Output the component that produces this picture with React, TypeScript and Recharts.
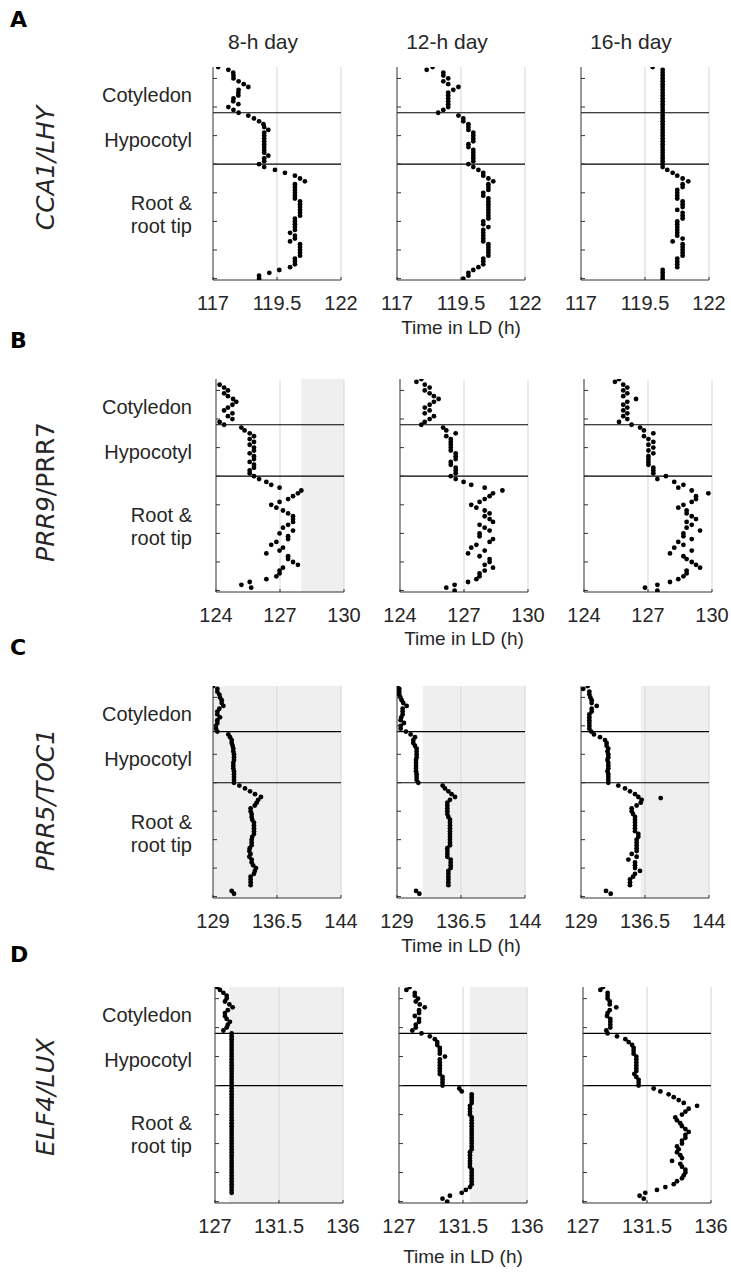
import React from 'react';
import { ScatterChart, Scatter, XAxis, YAxis, ReferenceLine, ReferenceArea } from 'recharts';

// position along the seedling is the array index (0 = cotyledon tip, 74 = root tip)
// values are time of peak expression, in h in LD

const CCA1_8H = [
  117.2, 117.6, 117.79, 117.8, 117.8, 118.0, 118.2, 118.38, 118.0, 117.99,
  117.99, 117.8, 117.79, 117.99, 117.6, 117.8, 118.0, 118.38, 118.6, 118.8,
  118.97, 119.0, 119.16, 119.0, 119.0, 119.0, 119.0, 119.0, 119.0, 119.0,
  119.0, 119.16, 119.0, 119.0, 118.8, 119.0, 119.42, 119.81, 120.2, 120.4,
  120.59, 120.2, 120.2, 120.2, 120.2, 120.2, 120.2, 120.4, 120.4, 120.4,
  120.4, 120.4, 120.4, 120.2, 120.2, 120.2, 120.2, 120.2, 120.01, 120.2,
  120.2, 120.01, 120.4, 120.4, 120.4, 120.4, 120.4, 120.2, 120.2, 120.2,
  120.01, 119.59, 119.2, 118.8, 118.8,
];
const CCA1_12H = [
  118.39, 118.16, 118.81, 118.81, 119.0, 118.81, 119.0, 119.4, 119.2, 119.0,
  119.0, 119.0, 119.0, 119.0, 119.0, 118.81, 118.61, 119.4, 119.59, 119.59,
  119.79, 119.79, 119.79, 119.98, 119.98, 119.98, 119.98, 119.79, 119.79, 119.98,
  119.98, 119.98, 119.98, 119.98, 119.79, 119.98, 120.18, 120.37, 120.37, 120.57,
  120.76, 120.57, 120.57, 120.57, 120.37, 120.37, 120.57, 120.57, 120.57, 120.57,
  120.57, 120.57, 120.57, 120.57, 120.37, 120.37, 120.57, 120.37, 120.37, 120.37,
  120.37, 120.37, 120.57, 120.57, 120.57, 120.57, 120.57, 120.37, 120.37, 120.37,
  120.18, 119.98, 119.79, 119.79, 119.59,
];
const CCA1_16H = [
  119.8,
  120.19, 120.19, 120.19, 120.19, 120.19, 120.19, 120.19,
  120.19, 120.19, 120.19, 120.19, 120.19, 120.19, 120.19,
  120.19, 120.19, 120.19, 120.19, 120.19, 120.19, 120.19,
  120.19, 120.19, 120.19, 120.19, 120.19, 120.19, 120.19,
  120.19, 120.19, 120.19, 120.19, 120.19, 120.19, 120.19,
  120.37, 120.58, 120.76, 120.97, 121.19, 120.97, 120.97, 120.76, 120.76, 120.76,
  120.76, 120.97, 120.97, 120.97, 120.76, 120.97, 120.97, 120.97, 120.76, 120.76,
  120.76, 120.76, 120.76, 120.76, 120.97, 120.58, 120.97, 120.97, 120.97, 120.97,
  120.97, 120.76, 120.76, 120.76, 120.76, 120.19, 120.19, 120.19, 120.19,
];

const PRR9_8H = [
  null, null, 124.17, 124.38, 124.56, 124.38, 124.56, 124.8, 124.95, 124.77,
  124.56, 124.38, 124.77, 124.56, 124.77, 124.17, 124.38, 125.19, 125.34, 125.58,
  125.78, 125.58, 125.78, 125.58, 125.78, 125.78, 125.58, 125.78, 125.78, 125.58,
  125.78, 125.78, 125.58, 125.58, 125.78, 126.02, 126.36, 126.59, 126.98, 128.0,
  127.84, 127.61, 127.38, 126.98, 126.59, 126.83, 127.14, 127.38, 127.61, 127.61,
  127.61, 127.38, 127.14, 127.61, 126.98, 127.38, 127.38, 126.83, 126.59, 127.14,
  126.98, 126.36, 127.38, 127.38, 127.61, 127.84, 127.14, 126.98, 126.98, 126.83,
  126.36, 125.58, 125.19, 125.65, null,
];
const PRR9_12H = [
  125.0, 124.77, 125.16, 125.39, 125.16, 125.39, 125.59, 125.81, 125.59, 125.39,
  125.16, 125.39, 125.16, 125.59, 125.39, 125.16, 125.0, 126.02, 126.17, 126.61,
  126.17, 126.38, 126.38, 126.38, 126.38, 126.38, 126.61, 126.61, 126.61, 126.38,
  126.38, 126.61, 126.61, 126.61, 126.38, 126.61, 126.98, 127.34, 127.97, 128.8,
  128.36, 128.2, 127.97, 127.73, 127.34, 127.58, 127.97, 128.2, 127.97, 128.2,
  128.36, 127.73, 127.97, 128.2, 127.73, 127.73, 128.36, 128.2, 127.58, 127.34,
  127.97, 127.19, 127.73, 128.2, 128.2, 127.97, 128.36, 127.97, 127.73, 127.73,
  127.58, 127.19, 126.56, 126.17, 126.56,
];
const PRR9_16H = [
  125.64, 125.45, 125.84, 126.03, 125.84, 126.03, 125.84, 126.44, 126.03, 125.84,
  126.03, 125.84, 126.03, 125.84, 126.03, 125.64, 126.23, 126.63, 126.81, 127.25,
  126.81, 127.02, 127.25, 127.02, 127.25, 127.02, 127.25, 127.02, 127.02, 127.02,
  127.02, 127.25, 127.25, 127.25, 127.84, 127.44, 128.23, 128.66, 128.42, 129.05,
  129.83, 129.25, 129.25, 129.05, 128.66, 128.42, 128.81, 128.81, 129.05, 129.25,
  128.81, 129.05, 128.81, 129.44, 128.66, 128.66, 129.05, 128.42, 128.66, 128.23,
  129.05, 128.03, 128.66, 128.81, 129.05, 129.25, 129.44, 128.81, 128.81, 128.66,
  128.42, 128.03, 127.44, 126.86, 127.44,
];

const PRR5_8H = [
  129.0, 129.51, 129.51, 129.74, 129.82, 130.02, 130.02, 130.21, 129.74, 129.51,
  129.51, 129.82, 129.51, 129.51, 129.35, 129.35, 129.51, 130.8, 131.0, 131.19,
  131.19, 131.3, 131.38, 131.38, 131.46, 131.46, 131.46, 131.38, 131.38, 131.38,
  131.46, 131.46, 131.46, 131.46, 131.46, 132.09, 132.75, 133.34, 133.92, 134.62,
  134.3, 134.12, 133.9, 133.41, 133.41, 133.53, 133.53, 133.6, 133.8, 133.8,
  133.8, 133.8, 133.8, 133.6, 133.53, 133.53, 133.53, 133.3, 133.26, 133.4,
  133.26, 133.53, 133.53, 133.7, 134.04, 133.9, 133.8, 133.41, 133.41, 133.41,
  133.41, null, 131.19, 131.46, null,
];
const PRR5_12H = [
  129.04, 129.27, 129.27, 129.27, 129.4, 129.55, 129.74, 130.13, 129.66, 129.66,
  129.66, 129.5, 129.43, 129.82, 129.43, 129.43, 130.05, 130.6, 131.11, 130.91,
  130.91, 131.1, 131.3, 131.3, 131.3, 131.3, 131.23, 131.23, 131.23, 131.23,
  131.23, 131.3, 131.3, 131.3, 131.5, 134.35, 134.62, 135.02, 135.4, 135.8,
  135.21, 134.9, 134.9, 134.9, 134.9, 134.9, 135.02, 135.21, 135.21, 135.21,
  135.21, 135.21, 135.21, 135.21, 135.21, 135.21, 135.21, 134.9, 134.9, 134.9,
  134.9, 135.29, 135.29, 135.29, 135.29, 135.02, 135.02, 135.02, 135.02, 135.02,
  135.02, null, 131.23, 131.62, null,
];
const PRR5_16H = [
  129.78, 129.27, 129.98, 129.98, 130.1, 130.25, 130.25, 130.84, 130.25, 130.25,
  129.98, 129.98, 129.98, 129.98, 129.98, 129.98, 130.2, 130.52, 131.23, 131.81,
  132.0, 132.0, 132.2, 132.1, 132.2, 132.2, 132.1, 132.2, 132.2, 132.2,
  132.1, 132.2, 132.2, 132.2, 132.2, 133.37, 134.16, 134.74, 135.33, 135.72,
  136.11, 136.0, 135.52, 134.94, 134.94, 135.1, 135.33, 135.33, 135.33, 135.33,
  135.33, 135.33, 135.72, 135.72, 135.52, 135.52, 135.52, 135.52, 135.52, 134.94,
  135.52, 134.55, 135.33, 135.33, 135.33, 135.91, 135.33, 135.1, 134.74, 134.74,
  134.74, null, 131.93, 132.48, null,
];
// [position, time] points that sit off the main curve
const PRR5_16H_OUTLIERS = [[39.4, 138.34]];

const ELF4_8H = [
  127.16, 127.35, 127.59, 127.82, 127.82, 127.7, 128.01, 128.24, 127.9, 127.7,
  127.7, 127.82, 128.05, 127.9, 127.82, 127.59, 128.17,
  128.17, 128.17, 128.17, 128.17, 128.17, 128.17, 128.17, 128.17, 128.17, 128.17, 128.17,
  128.17, 128.17, 128.17, 128.17, 128.17, 128.17, 128.17, 128.17, 128.17, 128.17, 128.17,
  128.17, 128.17, 128.17, 128.17, 128.17, 128.17, 128.17, 128.17, 128.17, 128.17, 128.17,
  128.17, 128.17, 128.17, 128.17, 128.17, 128.17, 128.17, 128.17, 128.17, 128.17, 128.17,
  128.17, 128.17, 128.17, 128.17, 128.17, 128.17, 128.17, 128.17, 128.17, 128.17, 128.17,
  null, null, null,
];
const ELF4_12H = [
  127.75, 127.52, 128.11, 128.11, 128.34, 128.18, 128.46, 128.81, 128.41, 128.41,
  128.11, 128.41, 128.41, 128.18, 128.18, 127.94, 128.58, 129.17, 129.52, 129.69,
  129.69, 129.87, 129.87, 129.87, 130.23, 129.87, 129.87, 129.87, 129.87, 129.87,
  129.87, 130.06, 130.06, 130.06, 130.06, 131.24, 131.41, 132.11, 132.11, 132.11,
  132.11, 131.99, 131.99, 131.99, 131.99, 132.11, 132.11, 132.11, 132.11, 132.11,
  132.11, 132.11, 132.11, 132.11, 132.11, 132.11, 132.11, 131.99, 131.99, 131.99,
  131.99, 131.99, 131.99, 132.11, 132.11, 132.11, 132.11, 132.11, 132.11, 131.99,
  131.7, 131.41, 130.58, 130.06, 130.39,
];
const ELF4_16H = [
  128.41, 128.22, 128.73, 128.73, 128.73, 128.88, 128.88, 129.34, 128.88, 128.73,
  128.69, 128.92, 128.92, 128.92, 128.92, 128.64, 128.73, 129.39, 129.98, 130.21,
  130.45, 130.56, 130.56, 130.56, 130.75, 130.75, 130.75, 130.75, 130.75, 130.75,
  130.61, 130.75, 130.91, 130.91, 130.91, 131.97, 132.44, 133.02, 133.38, 133.73,
  134.08, 135.02, 134.43, 134.2, 133.96, 133.49, 133.61, 133.84, 133.96, 134.2,
  134.43, 134.2, 134.2, 133.96, 133.96, 133.61, 133.73, 133.61, 133.84, 133.96,
  133.26, 133.84, 133.96, 134.2, 134.2, 134.08, 133.96, 133.61, 133.38, 132.79,
  132.2, 131.38, 130.98, 131.27, null,
];

const LETTERS = ['A', 'B', 'C', 'D'];
const DAYS = ['8-h day', '12-h day', '16-h day'];
const REGIONS = ['Cotyledon', 'Hypocotyl', 'Root &', 'root tip'];
const X_TICKS = [
  [117, 119.5, 122],
  [124, 127, 130],
  [129, 136.5, 144],
  [127, 131.5, 136],
];
const Y_TICKS = [4, 14, 24, 34, 44, 54, 64, 74];
const BOUNDARIES = [16, 34];
// dark period shown in grey, per row and column (null = none)
const DARK = [
  [null, null, null],
  [[128, 130], null, null],
  [[129, 144], [132, 144], [136, 144]],
  [[128, 136], [132, 136], null],
];
const SERIES = [
  [CCA1_8H, CCA1_12H, CCA1_16H],
  [PRR9_8H, PRR9_12H, PRR9_16H],
  [PRR5_8H, PRR5_12H, PRR5_16H],
  [ELF4_8H, ELF4_12H, ELF4_16H],
];

// layout
const ROW_TOP = [67, 379, 686, 987];
const ROW_H = [213, 213, 212, 216];
const COL_LEFT = [
  [213, 397, 581],
  [216, 400, 584],
  [213, 397, 581],
  [215, 399, 583],
];
const LETTER_Y = [27, 348, 655, 962];
const GENE_Y = [168, 492, 800, 1097];
const XLABEL_Y = [334, 645, 952, 1263];
const REGION_DY = [35, 80, 143, 166];
const PLOT_W = 128;
const ML = 20;
const YW = 4;
const MR = 24;
const MT = 4;
const XH = 44;

const FONT = '"Liberation Sans", Arial, sans-serif';
const AXIS = '#333333';
const GRID = '#dcdcdc';
const SHADE = '#efefef';

const YTick = (p: any) => (
  <line x1={p.x} y1={p.y} x2={p.x + 4} y2={p.y} stroke={AXIS} strokeWidth={1} />
);

const XTick = (p: any) => (
  <g>
    <line x1={p.x} y1={p.y} x2={p.x} y2={p.y - 3} stroke={AXIS} strokeWidth={1} />
    <text x={p.x} y={p.y + 30} textAnchor="middle" fontSize={20} fontFamily={FONT} fill="#262626">
      {p.payload.value}
    </text>
  </g>
);

const Dot = (p: any) => <circle cx={p.cx} cy={p.cy} r={2.4} fill="#000" />;

function Panel({ row, col }: { row: number; col: number }) {
  const times = SERIES[row][col] as (number | null)[];
  const data = times
    .map((t, i) => (t == null ? null : { x: t, y: i }))
    .filter(Boolean) as { x: number; y: number }[];
  const extra = row === 2 && col === 2 ? PRR5_16H_OUTLIERS.map(([y, x]) => ({ x, y })) : [];
  const ticks = X_TICKS[row];
  const dark = DARK[row][col];
  const h = ROW_H[row];
  return (
    <div style={{ position: 'absolute', left: COL_LEFT[row][col] - ML - YW, top: ROW_TOP[row] - MT }}>
      <ScatterChart
        width={ML + YW + PLOT_W + MR}
        height={MT + h + XH}
        margin={{ top: MT, right: MR, bottom: 0, left: ML }}
      >
        <XAxis
          type="number"
          dataKey="x"
          domain={[ticks[0], ticks[2]]}
          ticks={ticks}
          interval={0}
          allowDataOverflow
          height={XH}
          stroke={AXIS}
          tickLine={false}
          tickSize={0}
          tickMargin={0}
          tick={XTick}
        />
        <YAxis
          type="number"
          dataKey="y"
          domain={[0, 74.5]}
          reversed
          ticks={Y_TICKS}
          interval={0}
          allowDataOverflow
          width={YW}
          stroke={AXIS}
          tickLine={false}
          tickSize={0}
          tickMargin={0}
          tick={YTick}
        />
        {dark && <ReferenceArea x1={dark[0]} x2={dark[1]} fill={SHADE} fillOpacity={1} stroke="none" />}
        <ReferenceLine x={ticks[1]} stroke={GRID} strokeWidth={1.2} />
        <ReferenceLine x={ticks[2]} stroke={GRID} strokeWidth={1.2} />
        <Scatter data={data} shape={Dot} isAnimationActive={false} />
        {extra.length > 0 && <Scatter data={extra} shape={Dot} isAnimationActive={false} />}
        {BOUNDARIES.map((b) => (
          <ReferenceLine key={b} y={b} stroke="#000" strokeWidth={1.2} />
        ))}
      </ScatterChart>
    </div>
  );
}

export default function App() {
  return (
    <div style={{ position: 'absolute', left: 0, top: 0, width: 731, height: 1276, background: '#fff' }}>
      <svg width={731} height={1276} style={{ position: 'absolute', left: 0, top: 0 }}>
        {DAYS.map((d, c) => (
          <text key={d} x={COL_LEFT[0][c] + 50} y={49} textAnchor="middle" fontSize={21} fontFamily={FONT} fill="#262626">
            {d}
          </text>
        ))}
        {LETTERS.map((l, r) => (
          <g key={l}>
            <text x={10} y={LETTER_Y[r]} fontSize={22} fontWeight="bold" fontFamily='"DejaVu Sans", sans-serif' fill="#000">
              {l}
            </text>
            {REGIONS.map((reg, k) => (
              <text key={reg} x={192} y={ROW_TOP[r] + REGION_DY[k]} textAnchor="end" fontSize={20} fontFamily={FONT} fill="#262626">
                {reg}
              </text>
            ))}
            <text
              transform={`translate(54, ${GENE_Y[r]}) rotate(-90)`}
              textAnchor="middle"
              fontSize={25}
              fontFamily='"DejaVu Sans", sans-serif'
              fill="#262626"
            >
              {r === 1 ? (
                <>
                  <tspan fontStyle="italic">PRR9</tspan>
                  <tspan>/PRR7</tspan>
                </>
              ) : r === 0 ? (
                <tspan fontStyle="italic">CCA1/LHY</tspan>
              ) : r === 2 ? (
                <tspan fontStyle="italic">PRR5/TOC1</tspan>
              ) : (
                <tspan fontStyle="italic">ELF4/LUX</tspan>
              )}
            </text>
            <text x={COL_LEFT[r][1] + 64} y={XLABEL_Y[r]} textAnchor="middle" fontSize={19} fontFamily={FONT} fill="#262626">
              Time in LD (h)
            </text>
          </g>
        ))}
      </svg>
      {SERIES.map((rowSeries, r) => rowSeries.map((_, c) => <Panel key={`${r}-${c}`} row={r} col={c} />))}
    </div>
  );
}
